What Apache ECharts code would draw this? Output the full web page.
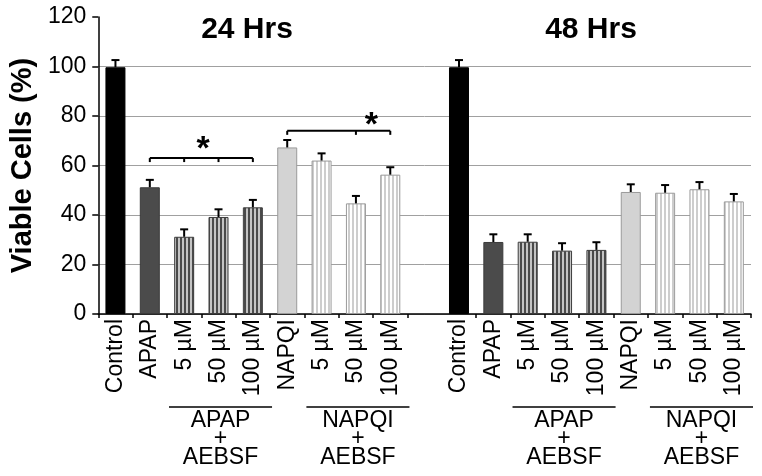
<!DOCTYPE html>
<html>
<head>
<meta charset="utf-8">
<script src="https://cdn.jsdelivr.net/npm/echarts@6/dist/echarts.min.js"></script>
<style>html,body{margin:0;padding:0;background:#fff}#c{width:762px;height:476px}</style>
</head>
<body>
<div id="c"></div>
<script>
const categories = ['Control', 'APAP', '5 µM', '50 µM', '100 µM', 'NAPQI', '5 µM', '50 µM', '100 µM'];
const values24 = [99.7, 51.2, 31.2, 39.2, 43.1, 67.3, 62.0, 44.7, 56.3];
const errors24 = [2.9, 3.0, 3.0, 3.1, 3.0, 3.0, 2.9, 3.0, 3.0];
const values48 = [99.7, 29.1, 29.2, 25.6, 25.9, 49.3, 49.0, 50.4, 45.5];
const errors48 = [2.9, 3.1, 3.0, 3.0, 3.1, 3.1, 3.1, 2.9, 3.0];
const timeTitles = ['24 Hrs', '48 Hrs'];
const groupLabels = ['APAP\n+\nAEBSF', 'NAPQI\n+\nAEBSF'];
const groupSpans = [[2, 4], [6, 8]];
const yMin = 0, yMax = 120, yStep = 20;
const brackets = [
  { cats: [1, 2, 3, 4], y: 63, starX: 2.55, starY: 69 },
  { cats: [5, 7, 8], y: 74, starX: 7.45, starY: 78.6 }
];

const FONT = '"Liberation Sans", Arial, Helvetica, sans-serif';

function stripes(bg, fg, w, period) {
  const c = document.createElement('canvas');
  c.width = period; c.height = 4;
  const g = c.getContext('2d');
  g.fillStyle = bg; g.fillRect(0, 0, period, 4);
  g.fillStyle = fg; g.fillRect(0, 0, w, 4);
  return c;
}
const styles = {
  control: { color: '#000000', borderColor: '#000000', borderWidth: 1 },
  apap: { color: '#4b4b4b', borderColor: '#3a3a3a', borderWidth: 1 },
  apapS: { color: { image: stripes('#c4c4c4', '#4a4a4a', 2, 4), repeat: 'repeat' }, borderColor: '#3c3c3c', borderWidth: 1 },
  napqi: { color: '#d3d3d3', borderColor: '#9a9a9a', borderWidth: 1 },
  napqiS: { color: { image: stripes('#ffffff', '#cdcdcd', 2, 4), repeat: 'repeat' }, borderColor: '#9a9a9a', borderWidth: 1 }
};
const kinds = ['control', 'apap', 'apapS', 'apapS', 'apapS', 'napqi', 'napqiS', 'napqiS', 'napqiS'];

const n = categories.length;
const allCats = [...categories, '', ...categories];
const barData = [];
const errData = [];
[values24, values48].forEach((vals, gi) => {
  vals.forEach((v, i) => {
    const idx = gi * (n + 1) + i;
    barData[idx] = { value: v, itemStyle: styles[kinds[i]] };
    errData.push([idx, v, (gi === 0 ? errors24 : errors48)[i]]);
  });
});
barData[n] = '-';

const groupData = [];
[0, 1].forEach(gi => groupSpans.forEach((sp, k) => groupData.push([gi * (n + 1) + sp[0], gi * (n + 1) + sp[1], k])));

// category axis rounds fractional values, so interpolate between neighbours
function fracCoord(api, x, y) {
  const lo = Math.floor(x), hi = Math.ceil(x);
  const a = api.coord([lo, y]), b = api.coord([hi, y]);
  const t = x - lo;
  return [a[0] + (b[0] - a[0]) * t, a[1]];
}

const chart = echarts.init(document.getElementById('c'), null, { renderer: 'canvas' });
chart.setOption({
  animation: false,
  backgroundColor: '#ffffff',
  textStyle: { fontFamily: FONT },
  grid: { left: 97, right: 11, top: 17, bottom: 162, containLabel: false },
  xAxis: {
    type: 'category',
    data: allCats,
    boundaryGap: true,
    axisLine: { lineStyle: { color: '#000', width: 1.5 } },
    axisTick: { show: true, length: 4, lineStyle: { color: '#000', width: 1.5 }, interval: (i) => i !== n + 1 },
    axisLabel: { interval: 0, rotate: 90, fontSize: 23, color: '#000', fontFamily: FONT, margin: 5 },
    splitLine: { show: false }
  },
  yAxis: {
    type: 'value', min: yMin, max: yMax, interval: yStep,
    name: 'Viable Cells (%)', nameLocation: 'middle', nameRotate: 90, nameGap: 58,
    nameTextStyle: { fontSize: 29, fontWeight: 'bold', color: '#000', fontFamily: FONT },
    axisLine: { show: true, lineStyle: { color: '#000', width: 1.5 } },
    axisTick: { show: true, length: 6, lineStyle: { color: '#000', width: 1.5 } },
    axisLabel: { fontSize: 23, color: '#000', fontFamily: FONT, margin: 12 },
    splitLine: { show: true, showMaxLine: false, lineStyle: { color: '#a0a0a0', width: 1 } }
  },
  graphic: timeTitles.map((t, i) => ({
    type: 'text', x: i === 0 ? 247 : 591, y: 30, z: 10,
    style: { text: t, font: 'bold 30px ' + FONT, fill: '#000', textAlign: 'center', textVerticalAlign: 'middle' }
  })),
  series: [
    { type: 'bar', data: barData, barWidth: 20, z: 2 },
    {
      type: 'custom', z: 5, data: errData,
      renderItem: (params, api) => {
        const x = api.value(0), v = api.value(1), e = api.value(2);
        const base = api.coord([x, v]);
        const top = api.coord([x, v + e]);
        return { type: 'group', children: [
          { type: 'line', shape: { x1: base[0], y1: base[1], x2: top[0], y2: top[1] }, style: { stroke: '#000', lineWidth: 2 } },
          { type: 'line', shape: { x1: top[0] - 4, y1: top[1], x2: top[0] + 4, y2: top[1] }, style: { stroke: '#000', lineWidth: 2 } }
        ] };
      }
    },
    {
      type: 'custom', z: 6, data: brackets.map((b, i) => [i]),
      renderItem: (params, api) => {
        const b = brackets[api.value(0)];
        const p1 = api.coord([b.cats[0], b.y]);
        const p2 = api.coord([b.cats[b.cats.length - 1], b.y]);
        const children = [{ type: 'line', shape: { x1: p1[0], y1: p1[1], x2: p2[0], y2: p2[1] }, style: { stroke: '#000', lineWidth: 2 } }];
        b.cats.forEach(c => {
          const p = api.coord([c, b.y]);
          children.push({ type: 'line', shape: { x1: p[0], y1: p[1], x2: p[0], y2: p[1] + 4 }, style: { stroke: '#000', lineWidth: 2 } });
        });
        const s = fracCoord(api, b.starX, b.starY);
        children.push({ type: 'text', x: s[0], y: s[1] + 6, style: { text: '*', font: 'bold 34px ' + FONT, fill: '#000', align: 'center', verticalAlign: 'middle' } });
        return { type: 'group', children };
      }
    },
    {
      type: 'custom', z: 6, data: groupData, clip: false,
      renderItem: (params, api) => {
        const a = api.coord([api.value(0), 0]);
        const b = api.coord([api.value(1), 0]);
        const w = api.size([1, 0])[0];
        const x1 = a[0] - w / 2 + 2, x2 = b[0] + w / 2 + 2;
        const y = a[1] + 93;
        return { type: 'group', children: [
          { type: 'line', shape: { x1, y1: y, x2, y2: y }, style: { stroke: '#000', lineWidth: 1.5 } },
          { type: 'text', x: (x1 + x2) / 2, y: y + 4, style: { text: groupLabels[api.value(2)], font: '23px ' + FONT, lineHeight: 18.5, fill: '#000', align: 'center', verticalAlign: 'top' } }
        ] };
      }
    }
  ]
});
</script>
</body>
</html>
